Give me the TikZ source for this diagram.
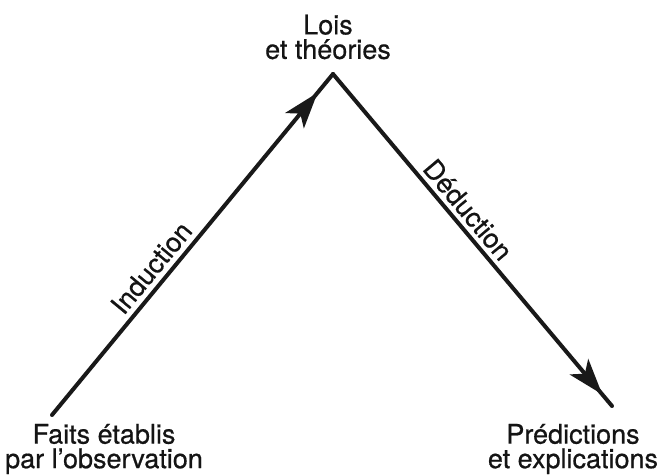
\documentclass[tikz,border=0pt]{standalone}
\usepackage{fontspec}
\setmainfont{TeX Gyre Heros}[FakeBold=0.6]
\newfontfamily\inkfont{TeX Gyre Heros}[FakeBold=0.6]
\usetikzlibrary{arrows.meta,decorations.markings}

\begin{document}
\begin{tikzpicture}[
    x=1pt, y=1pt,
    every node/.style={text=black!92},
    term/.style={align=center, inner sep=0pt, font=\inkfont\fontsize{27}{24.5}\selectfont},
    steplabel/.style={sloped, inner sep=0pt, font=\inkfont\fontsize{27}{28}\selectfont},
    flow/.style={line width=4pt, draw=black!90, line cap=round,
        postaction={decorate}},
    head/.style={decoration={markings, mark=at position #1 with
        {\arrow{Stealth[length=36pt,width=24pt,inset=9pt]}}}}
]
\useasboundingbox (0,0) rectangle (657,476);

\node[term] (theories) at (328,439) {Lois\\et théories};
\node[term] (faits) at (104,27) {Faits établis\\par l’observation};
\node[term] (predictions) at (573,27) {Prédictions\\et explications};

\coordinate (apex) at (333,402);
\coordinate (obs) at (52,61);
\coordinate (pred) at (612,70);

\draw[flow, head=0.945] (obs) -- node[steplabel, pos=0.40, above=5pt] (induction) {Induction} (apex);
\draw[flow, head=0.965] (apex) -- node[steplabel, pos=0.44, above=4pt] (deduction) {Déduction} (pred);
\end{tikzpicture}
\end{document}
